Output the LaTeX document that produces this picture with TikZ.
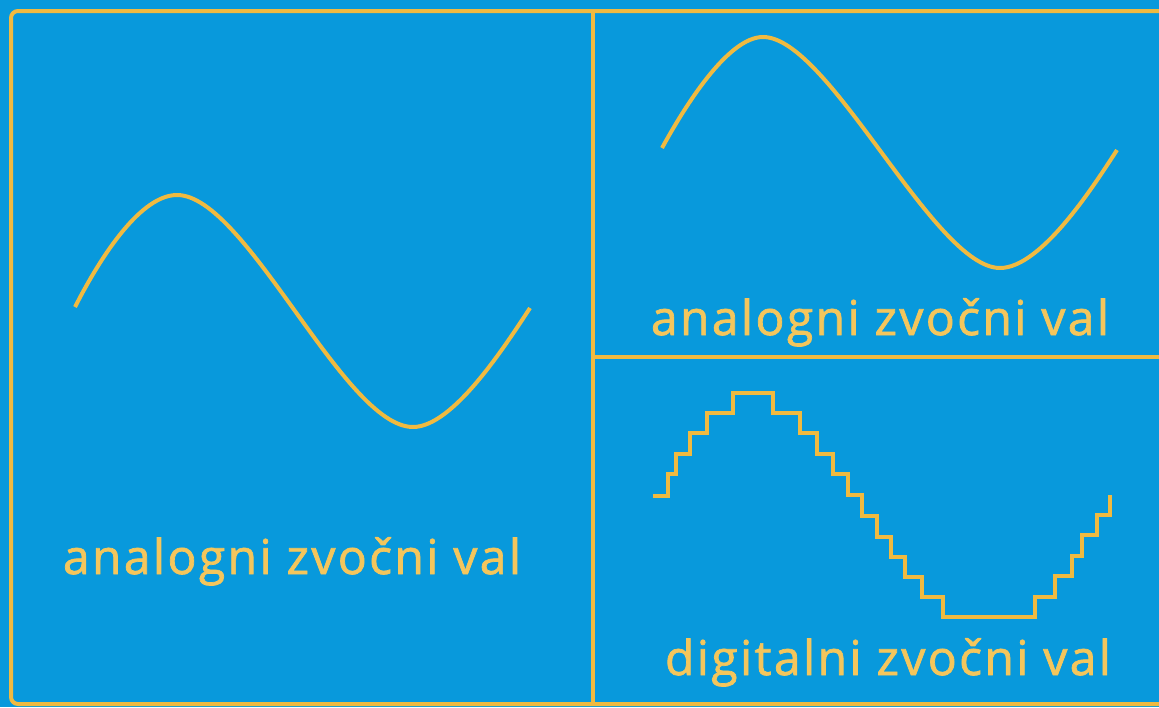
\documentclass[tikz,border=0pt]{standalone}
\usepackage{fontspec}
\newfontfamily\captionfont{Open Sans}[LetterSpace=5,FakeBold=1.5]
\usepackage{tikz}
\usetikzlibrary{positioning}

\definecolor{skyblue}{RGB}{8,153,220}
\definecolor{wavegold}{RGB}{240,186,64}
\definecolor{textgold}{RGB}{244,198,92}

\begin{document}
\begin{tikzpicture}[x=1pt,y=-1pt,
  frame/.style={wavegold,line width=4pt},
  wave/.style={wavegold,line width=4pt},
  stairs/.style={wavegold,line width=4pt,line join=miter},
  caption/.style={textgold,font=\captionfont\fontsize{48}{54}\selectfont,inner sep=0pt,anchor=base}]
% background
\fill[skyblue] (0,0) rectangle (1159,707);
\useasboundingbox (0,0) rectangle (1159,707);
% frames
\draw[frame,rounded corners=7pt] (1175,11) -- (11,11) -- (11,704) -- (1175,704);
\draw[frame] (593,11) -- (593,704);
\draw[frame] (593,357) -- (1175,357);
% analog wave, left
\draw[wave] (75,307) .. controls (103,252) and (142,195) .. (177,195)
  .. controls (246,195) and (344,427) .. (413,427)
  .. controls (453,427) and (505,346) .. (530,308);
\node[caption] (leftlabel) at (292,574) {analogni zvočni val};
% analog wave, top right
\draw[wave] (662,148) .. controls (685,106) and (728,37) .. (763,37)
  .. controls (829,37) and (934,268) .. (1000,268)
  .. controls (1041,268) and (1093,187) .. (1117,150);
\node[caption] (toplabel) at (880,335) {analogni zvočni val};
% digital wave, bottom right
\draw[stairs] (653,496) \foreach \x/\y in {668/474,676/454,690/433,707/413,733/393,773/413,800/433,817/454,833/474,848/495,862/516,877/537,891/557,905/577,922/597,943/617,1035/597,1055/576,1072/556,1082/535,1097/515,1110/495}{ -| (\x,\y) };
\node[caption] (bottomlabel) at (888,675) {digitalni zvočni val};
\end{tikzpicture}
\end{document}
